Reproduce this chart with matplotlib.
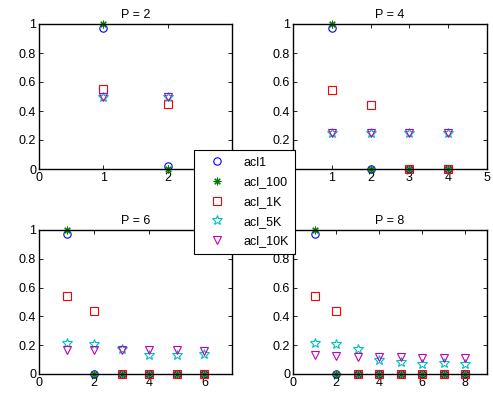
import numpy as np
import matplotlib
matplotlib.use('Agg')
import matplotlib.pyplot as plt

plt.rcParams['font.family'] = ['Liberation Sans', 'DejaVu Sans']
plt.rcParams['font.size'] = 9

# valores, um dict por P
p_vals = [2, 4, 6, 8]
acl1 = {
    2: [0.97, 0.02],
    4: [0.97, 0.0, 0.0, 0.0],
    6: [0.97, 0.0, 0.0, 0.0, 0.0, 0.0],
    8: [0.97, 0.0, 0.0, 0.0, 0.0, 0.0, 0.0, 0.0],
}
acl_100 = {
    2: [1.0, 0.0],
    4: [1.0, 0.0, 0.0, 0.0],
    6: [1.0, 0.0, 0.0, 0.0, 0.0, 0.0],
    8: [1.0, 0.0, 0.0, 0.0, 0.0, 0.0, 0.0, 0.0],
}
acl_1K = {
    2: [0.55, 0.45],
    4: [0.545, 0.44, 0.0, 0.0],
    6: [0.545, 0.44, 0.0, 0.0, 0.0, 0.0],
    8: [0.545, 0.44, 0.0, 0.0, 0.0, 0.0, 0.0, 0.0],
}
acl_5K = {
    2: [0.5, 0.5],
    4: [0.25, 0.25, 0.25, 0.25],
    6: [0.215, 0.21, 0.175, 0.135, 0.135, 0.14],
    8: [0.215, 0.21, 0.175, 0.097, 0.083, 0.067, 0.074, 0.067],
}
acl_10K = {
    2: [0.5, 0.5],
    4: [0.25, 0.25, 0.25, 0.25],
    6: [0.165, 0.165, 0.165, 0.165, 0.165, 0.16],
    8: [0.13, 0.125, 0.12, 0.12, 0.118, 0.11, 0.11, 0.11],
}

# marcador, cor, tamanho
series = [
    ('acl1', acl1, 'o', '#0000ff', 5.3),
    ('acl_100', acl_100, (8, 2, 0), '#008000', 5.5),
    ('acl_1K', acl_1K, 's', '#ff0000', 5.3),
    ('acl_5K', acl_5K, '*', '#00bfbf', 7.5),
    ('acl_10K', acl_10K, 'v', '#bf00bf', 6),
]

posicoes = {
    2: [0.0791, 0.5775, 0.3915, 0.3625],
    4: [0.5943, 0.5775, 0.3935, 0.3625],
    6: [0.0791, 0.065, 0.3915, 0.36],
    8: [0.5943, 0.065, 0.3935, 0.36],
}
xticks = {2: [0, 1, 2, 3], 4: [0, 1, 2, 3, 4, 5], 6: [0, 2, 4, 6], 8: [0, 2, 4, 6, 8]}
# rótulos que ficam escondidos atrás da legenda
xlabels = {2: ['0', '1', '2', ''], 4: ['', '1', '2', '3', '4', '5'],
           6: ['0', '2', '4', '6'], 8: ['0', '2', '4', '6', '8']}
ylabels_full = ['0', '0.2', '0.4', '0.6', '0.8', '1']
ylabels = {2: ylabels_full, 4: [''] + ylabels_full[1:], 6: ylabels_full,
           8: ylabels_full[:-1] + ['']}

fig = plt.figure(figsize=(4.93, 4.0), dpi=100)
handles = []
for P in p_vals:
    ax = fig.add_axes(posicoes[P])
    x = np.arange(1, P + 1)
    hs = []
    for nome, dados, mk, cor, ms in series:
        h, = ax.plot(x, dados[P], linestyle='none', marker=mk, ms=ms,
                     mfc='none', mec=cor, mew=0.8, label=nome, clip_on=False)
        hs.append(h)
    if not handles:
        handles = hs
    ax.set_xlim(0, P + 1)
    ax.set_ylim(0, 1)
    ax.set_xticks(xticks[P])
    ax.set_xticklabels(xlabels[P])
    ax.set_yticks([0, 0.2, 0.4, 0.6, 0.8, 1])
    ax.set_yticklabels(ylabels[P])
    ax.tick_params(direction='in', top=True, right=True, length=3, width=0.6,
                   labelsize=9, pad=2)
    for s in ax.spines.values():
        s.set_linewidth(1.0)
    ax.set_title(f'P = {P}', fontsize=9, pad=4)

leg = fig.legend(handles=handles, loc='center', bbox_to_anchor=(0.496, 0.495),
                 fontsize=9, frameon=True, fancybox=False, framealpha=1,
                 edgecolor='black', handletextpad=0.8, labelspacing=0.62,
                 borderpad=0.5, handlelength=2.6)
leg.get_frame().set_linewidth(0.8)

fig.savefig('out.png', dpi=100)
